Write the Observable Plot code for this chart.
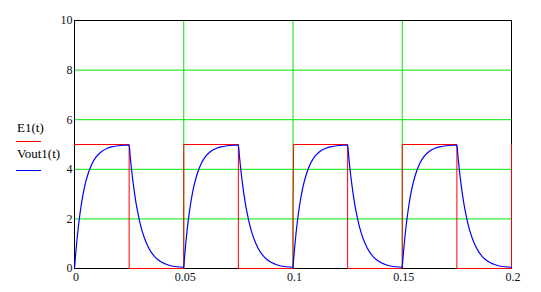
<!DOCTYPE html>
<html>
<head>
<meta charset="utf-8">
<script src="https://cdn.jsdelivr.net/npm/d3@7"></script>
<script src="https://cdn.jsdelivr.net/npm/@observablehq/plot@0.6"></script>
<style>
  html, body { margin: 0; padding: 0; background: #fff; }
  #wrap { position: relative; width: 541px; height: 292px; }
  .leg { position: absolute; font-family: "Liberation Serif", "Times New Roman", serif; font-size: 13px; color: #000; line-height: 1; white-space: nowrap; }
  .legline { position: absolute; height: 1px; }
</style>
</head>
<body>
<div id="wrap"></div>
<script>
// ---- data ----
const xTicks = [0, 0.05, 0.1, 0.15, 0.2];
const yTicks = [0, 2, 4, 6, 8, 10];
const xGrid = [0.05, 0.1, 0.15];
const yGrid = [2, 4, 6, 8];

// E1(t): square wave (time, value)
const e1T = [0, 0.025, 0.025, 0.05, 0.05, 0.075, 0.075, 0.1, 0.1, 0.1003, 0.125, 0.125, 0.15, 0.15, 0.175, 0.175, 0.2, 0.2];
const e1V = [5, 5, 0, 0, 5, 5, 0, 0, 2.5, 5, 5, 0, 0, 5, 5, 0, 0, 5];

// Vout1(t): sample times within one 0.05 period, and the start of each period
const phaseT = [0, 0.0005, 0.001, 0.0015, 0.002, 0.003, 0.004, 0.005, 0.006, 0.008, 0.010, 0.012, 0.015, 0.018, 0.021, 0.025,
                0.0255, 0.026, 0.0265, 0.027, 0.028, 0.029, 0.030, 0.031, 0.033, 0.035, 0.037, 0.039, 0.042, 0.045, 0.0499];
const cycleStart = [0, 0.05, 0.1, 0.15];
const voutCycle1 = [0, 0.55, 1.04, 1.47, 1.86, 2.51, 3.03, 3.44, 3.76, 4.22, 4.51, 4.69, 4.85, 4.92, 4.96, 4.98,
                    4.51, 4.08, 3.69, 3.34, 2.73, 2.24, 1.83, 1.50, 1.01, 0.67, 0.45, 0.30, 0.17, 0.09, 0.05];
const voutCycle2 = [0.05, 0.59, 1.08, 1.51, 1.89, 2.53, 3.05, 3.45, 3.77, 4.23, 4.52, 4.70, 4.85, 4.92, 4.96, 4.98,
                    4.51, 4.08, 3.69, 3.34, 2.73, 2.24, 1.83, 1.50, 1.01, 0.67, 0.45, 0.30, 0.17, 0.09, 0.05];
const voutCycle3 = [0.05, 0.59, 1.08, 1.51, 1.89, 2.53, 3.05, 3.45, 3.77, 4.23, 4.52, 4.70, 4.85, 4.92, 4.96, 4.98,
                    4.51, 4.08, 3.69, 3.34, 2.73, 2.24, 1.83, 1.50, 1.01, 0.67, 0.45, 0.30, 0.17, 0.09, 0.05];
const voutCycle4 = [0.05, 0.59, 1.08, 1.51, 1.89, 2.53, 3.05, 3.45, 3.77, 4.23, 4.52, 4.70, 4.85, 4.92, 4.96, 4.98,
                    4.51, 4.08, 3.69, 3.34, 2.73, 2.24, 1.83, 1.50, 1.01, 0.67, 0.45, 0.30, 0.17, 0.09, 0.05];

const legendLabels = ["E1(t)", "Vout1(t)"];
const colors = { e1: "#ff0000", vout: "#0000ff", grid: "#00e600", frame: "#000000" };

// ---- build tables ----
const e1 = e1T.map((t, i) => ({ t, v: e1V[i] }));
const voutCycles = [voutCycle1, voutCycle2, voutCycle3, voutCycle4];
const vout = voutCycles.flatMap((vals, c) => vals.map((v, i) => ({ t: cycleStart[c] + phaseT[i], v, c })));

const chart = Plot.plot({
  width: 541,
  height: 292,
  marginLeft: 74,
  marginRight: 30,
  marginTop: 20,
  marginBottom: 24,
  x: { domain: [0, 0.2] },
  y: { domain: [0, 10] },
  style: { fontFamily: "'Liberation Serif', 'Times New Roman', serif", fontSize: "12px", color: "#000", background: "#fff" },
  marks: [
    Plot.ruleX(xGrid, { stroke: colors.grid, strokeWidth: 1 }),
    Plot.ruleY(yGrid, { stroke: colors.grid, strokeWidth: 1 }),
    Plot.frame({ stroke: colors.frame, strokeWidth: 1 }),
    Plot.line(e1, { x: "t", y: "v", stroke: colors.e1, strokeWidth: 1 }),
    Plot.line(vout, { x: "t", y: "v", z: "c", stroke: colors.vout, strokeWidth: 1.2, curve: "monotone-x" }),
    Plot.axisX({ ticks: xTicks, tickSize: 0, tickPadding: 4, dx: 1.5, tickFormat: d => String(d), label: null, fill: "#111" }),
    Plot.axisY({ ticks: yTicks, tickSize: 0, tickPadding: 2, tickFormat: d => String(d), label: null, fill: "#111" })
  ]
});

const wrap = document.getElementById("wrap");
wrap.appendChild(chart);

// legend (left side)
const legItems = [
  { label: legendLabels[0], color: colors.e1, textTop: 121, lineTop: 141 },
  { label: legendLabels[1], color: colors.vout, textTop: 147, lineTop: 170 }
];
for (const it of legItems) {
  const t = document.createElement("div");
  t.className = "leg";
  t.textContent = it.label;
  t.style.left = "17px";
  t.style.top = it.textTop + "px";
  wrap.appendChild(t);
  const l = document.createElement("div");
  l.className = "legline";
  l.style.left = "16px";
  l.style.width = "25px";
  l.style.top = it.lineTop + "px";
  l.style.background = it.color;
  wrap.appendChild(l);
}
</script>
</body>
</html>
